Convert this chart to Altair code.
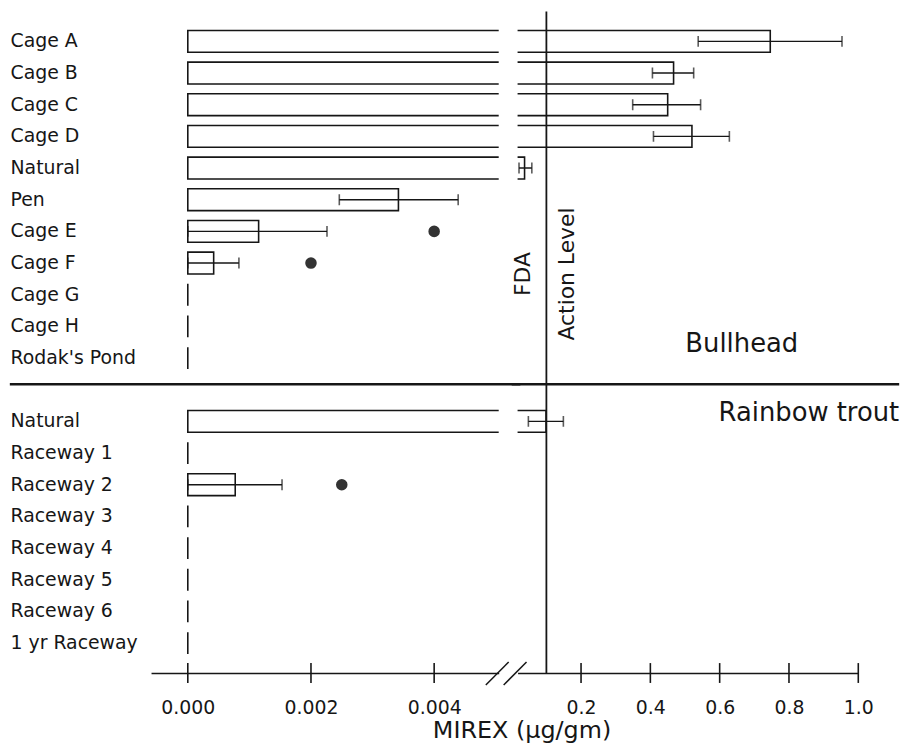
import altair as alt
import pandas as pd

# ---------------- data (MIREX, ug/gm) ----------------
bullhead_sites = ["Cage A", "Cage B", "Cage C", "Cage D", "Natural", "Pen",
                  "Cage E", "Cage F", "Cage G", "Cage H", "Rodak's Pond"]
bullhead_mean = [0.746, 0.467, 0.450, 0.520, 0.037, 0.00342,
                 0.00115, 0.00042, 0.0, 0.0, 0.0]
bullhead_low = [0.538, 0.406, 0.349, 0.409, 0.021, 0.00246,
                0.0, 0.0, None, None, None]
bullhead_high = [0.953, 0.525, 0.545, 0.628, 0.058, 0.00439,
                 0.00226, 0.00083, None, None, None]
bullhead_dot = [None, None, None, None, None, None,
                0.0040, 0.0020, None, None, None]

trout_sites = ["Natural", "Raceway 1", "Raceway 2", "Raceway 3",
               "Raceway 4", "Raceway 5", "Raceway 6", "1 yr Raceway"]
trout_mean = [0.099, 0.0, 0.00077, 0.0, 0.0, 0.0, 0.0, 0.0]
trout_low = [0.048, None, 0.0, None, None, None, None, None]
trout_high = [0.149, None, 0.00153, None, None, None, None, None]
trout_dot = [None, None, 0.0025, None, None, None, None, None]

left_ticks = [0.0, 0.002, 0.004]
right_ticks = [0.2, 0.4, 0.6, 0.8, 1.0]
action_level = [0.1]

# ---------------- tables ----------------
rows = []
for grp, sites, m, lo, hi, dot in [
    ("Bullhead", bullhead_sites, bullhead_mean, bullhead_low, bullhead_high, bullhead_dot),
    ("Rainbow trout", trout_sites, trout_mean, trout_low, trout_high, trout_dot),
]:
    for s, a, b, c, d in zip(sites, m, lo, hi, dot):
        rows.append({"key": f"{grp}|{s}", "mean": a, "lo": b, "hi": c, "dot": d})
df = pd.DataFrame(rows)

order = ([f"Bullhead|{s}" for s in bullhead_sites] + ["gap"] +
         [f"Rainbow trout|{s}" for s in trout_sites])

H = 666
WL = 350
WR = 343
FONT = "DejaVu Sans"
INK = "#161616"

yscale = alt.Scale(domain=order, paddingInner=0.31, paddingOuter=0.6)
y_axis = alt.Axis(
    labelExpr="indexof(datum.label, '|') >= 0 ? split(datum.label, '|')[1] : ''",
    labelAlign="left", labelPadding=142, labelBaseline="middle",
    labelFontSize=19, labelFont=FONT, labelColor=INK,
    domain=False, ticks=False, tickSize=0, grid=False, title=None,
)

left_dom = [-0.000597, -0.000597 + WL / 62000.0]
right_dom = [0.1 - 29 / 348.75, 1.0]

x_axis_left = alt.Axis(
    values=left_ticks, format=".3f", ticks=False, tickSize=0, grid=False,
    labelFlush=False, labelPadding=41, labelBaseline="alphabetic",
    labelFontSize=19, labelFont=FONT, labelColor=INK,
    domainColor=INK, domainWidth=1.5,
    title="MIREX (\u03bcg/gm)", titleX=373, titleY=65, titleAlign="center",
    titleBaseline="alphabetic", titleAngle=0, titleFontSize=24,
    titleFontWeight="normal", titleFont=FONT, titleColor=INK,
)
x_axis_right = alt.Axis(
    values=right_ticks, format=".1f", ticks=False, tickSize=0, grid=False,
    labelFlush=False, labelPadding=41, labelBaseline="alphabetic",
    labelFontSize=19, labelFont=FONT, labelColor=INK,
    domainColor=INK, domainWidth=1.5, title=None,
)


def XL(field):
    return alt.X(field, type="quantitative",
                 scale=alt.Scale(domain=left_dom, zero=False, nice=False),
                 axis=x_axis_left)


def XR(field):
    return alt.X(field, type="quantitative",
                 scale=alt.Scale(domain=right_dom, zero=False, nice=False),
                 axis=x_axis_right)


def panel(X, yaxis, ticks, sep_range, show_dots, extra):
    Y = alt.Y("key:N", scale=yscale, axis=yaxis)
    base = alt.Chart(df)
    bars = base.mark_bar(fill="white", stroke=INK, strokeWidth=1.6, clip=True).encode(
        x=X("mean"), x2=alt.datum(0), y=Y)
    err = base.transform_filter("isValid(datum.lo)").mark_rule(
        color=INK, strokeWidth=1.4, clip=True).encode(x=X("lo"), x2="hi:Q", y=Y)
    caps = base.transform_fold(["lo", "hi"], as_=["end", "val"]).transform_filter(
        "isValid(datum.val)").mark_tick(
        orient="vertical", size=11, thickness=1.6, color=INK, clip=True).encode(
        x=X("val"), y=Y)
    layers = [bars, err, caps]
    if show_dots:
        dots = base.transform_filter("isValid(datum.dot)").mark_circle(
            size=135, color="#333333", opacity=1, clip=True).encode(x=X("dot"), y=Y)
        layers.append(dots)
    tk = alt.Chart(pd.DataFrame({"t": ticks})).mark_rule(
        color=INK, strokeWidth=1.6).encode(
        x=X("t"), y=alt.value(H - 10), y2=alt.value(H + 10))
    sep = alt.Chart(pd.DataFrame({"key": ["gap"], "a": [sep_range[0]], "b": [sep_range[1]]})
                    ).mark_rule(color=INK, strokeWidth=2.6).encode(
        x=X("a"), x2="b:Q", y=alt.Y("key:N", scale=yscale, axis=yaxis, bandPosition=0.25))
    layers += [tk, sep]
    return alt.layer(*layers, *extra)


# break marks on the axis (left panel units)
brk = pd.DataFrame({"a": [0.004839, 0.005129], "b": [0.005210, 0.005500]})
slashes = alt.Chart(brk).mark_rule(color=INK, strokeWidth=1.5).encode(
    x=XL("a"), x2="b:Q", y=alt.value(H + 12), y2=alt.value(H - 11))

left = panel(XL, y_axis, left_ticks, [-0.00289, 0.0054], True, [slashes]).properties(
    width=WL, height=H)

YR = alt.Y("key:N", scale=yscale, axis=None)

lvl = alt.Chart(pd.DataFrame({"lvl": action_level})).mark_rule(
    color=INK, strokeWidth=1.8).encode(x=XR("lvl"))

species = pd.DataFrame({
    "key": ["Bullhead|Rodak's Pond", "Rainbow trout|Natural"],
    "x": [0.501, 1.118],
    "label": ["Bullhead", "Rainbow trout"],
})
sp_b = alt.Chart(species.iloc[[0]]).mark_text(
    align="left", baseline="alphabetic", dy=-6, fontSize=26, font=FONT, color=INK).encode(
    x=XR("x"), y=YR, text="label:N")
sp_t = alt.Chart(species.iloc[[1]]).mark_text(
    align="right", baseline="alphabetic", dy=0, fontSize=26, font=FONT, color=INK).encode(
    x=XR("x"), y=YR, text="label:N")

fda = pd.DataFrame({"key": ["Bullhead|Cage F", "Bullhead|Cage F"],
                    "x": [0.0312, 0.160], "label": ["FDA", "Action Level"]})
fda_txt = alt.Chart(fda).mark_text(
    angle=270, align="center", baseline="middle", fontSize=22, font=FONT, color=INK).encode(
    x=XR("x"), y=alt.Y("key:N", scale=yscale, axis=None, bandPosition=1), text="label:N")

right = panel(XR, None, right_ticks, [0.0, 1.118], False,
              [lvl, sp_b, sp_t, fda_txt]).properties(width=WR, height=H)

chart = alt.hconcat(left, right, spacing=19, bounds="flush").properties(
    padding={"left": 0, "top": 0, "right": 0, "bottom": 0}
).configure(background="white").configure_view(stroke=None)

chart.save("out.html", embed_options={"renderer": "svg", "actions": False})
